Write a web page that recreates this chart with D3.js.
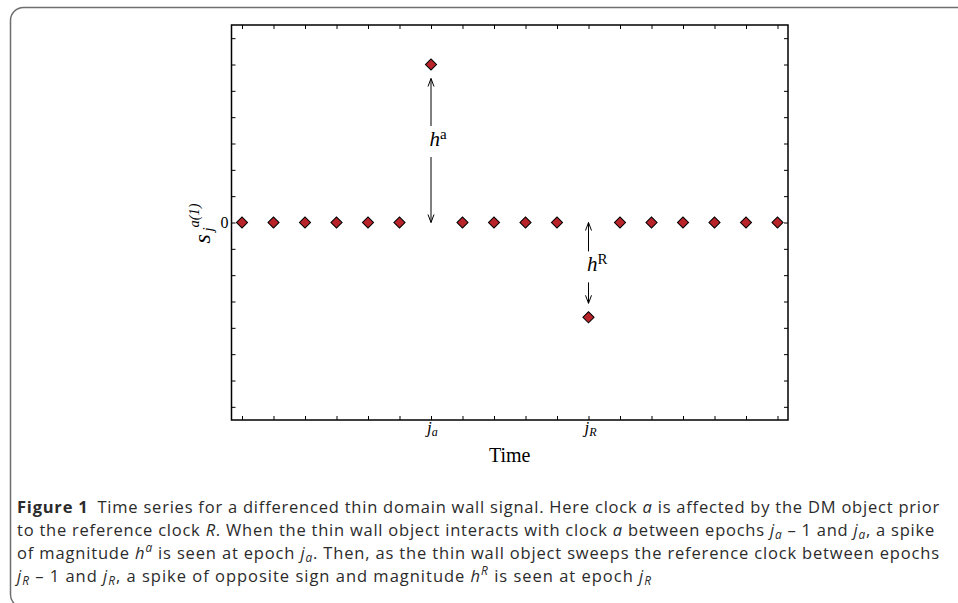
<!DOCTYPE html>
<html>
<head>
<meta charset="utf-8">
<script src="https://cdn.jsdelivr.net/npm/d3@7/dist/d3.min.js"></script>
<style>
  body { margin: 0; background: #fff; }
  svg { display: block; }
</style>
</head>
<body>
<svg id="chart" width="958" height="603"></svg>
<script>
// ---------------- data ----------------
const epochs = [1, 2, 3, 4, 5, 6, 7, 8, 9, 10, 11, 12, 13, 14, 15, 16, 17, 18];
const signal = [0, 0, 0, 0, 0, 0, 6, 0, 0, 0, 0, -3.6, 0, 0, 0, 0, 0, 0];
const yTickValues = [-7, -6, -5, -4, -3, -2, -1, 0, 1, 2, 3, 4, 5, 6, 7];
const yTickLabels = ["0"];
const xLabelEpochs = [7, 12];
const xLabelSubs = ["a", "R"];
const spikeEpochs = [7, 12];
const spikeSups = ["a", "R"];
const xTitle = "Time";
const captionLines = [
  [["Figure 1", "b"], ["\u2002Time series for a differenced thin domain wall signal. Here clock ", ""], ["a", "i"], [" is affected by the DM object prior", ""]],
  [["to the reference clock ", ""], ["R", "i"], [". When the thin wall object interacts with clock ", ""], ["a", "i"], [" between epochs ", ""], ["j", "i"], ["a", "isub"], [" \u2013 1 and ", ""], ["j", "i"], ["a", "isub"], [", a spike", ""]],
  [["of magnitude ", ""], ["h", "i"], ["a", "isup"], [" is seen at epoch ", ""], ["j", "i"], ["a", "isub"], [". Then, as the thin wall object sweeps the reference clock between epochs", ""]],
  [["j", "i"], ["R", "isub"], [" \u2013 1 and ", ""], ["j", "i"], ["R", "isub"], [", a spike of opposite sign and magnitude ", ""], ["h", "i"], ["R", "isup"], [" is seen at epoch ", ""], ["j", "i"], ["R", "isub"]]
];

// ---------------- layout / style ----------------
const plot = { left: 231.5, right: 788, top: 25, bottom: 420 };
const serif = "'Liberation Serif', 'Times New Roman', serif";
const sans = "'Open Sans', 'Noto Sans', sans-serif";
const markerFill = "#b8242a";
const captionColor = "#2b2b2b";
const captionX = 17;
const captionFont = 16.5;
const captionBaselines = [512.5, 535.5, 558.5, 581.5];
const captionRight = [940, 935, 940, 652];
const labelGapCenter = [-9, 4];   // pixel shift of label gap from arrow midpoint
const tipOffset = 14;

const svg = d3.select("#chart");

// outer rounded frame
svg.append("rect")
  .attr("x", 10.5).attr("y", 7.5)
  .attr("width", 1000).attr("height", 600)
  .attr("rx", 13).attr("ry", 13)
  .attr("fill", "none").attr("stroke", "#6e6e6e").attr("stroke-width", 1.5);

// scales
const x = d3.scaleLinear().domain([2 / 3, 18 + 1 / 3]).range([plot.left, plot.right]);
const y = d3.scaleLinear().domain([-7.5, 7.5]).range([plot.bottom, plot.top]);

const g = svg.append("g");

// axes (inward ticks)
const tickStyle = sel => {
  sel.select(".domain").remove();
  sel.selectAll(".tick line").attr("stroke", "#000").attr("stroke-width", 1);
};
g.append("g").attr("transform", `translate(0,${plot.bottom})`)
  .call(d3.axisBottom(x).tickValues(epochs).tickSize(-4).tickFormat("")).call(tickStyle);
g.append("g").attr("transform", `translate(0,${plot.top})`)
  .call(d3.axisTop(x).tickValues(epochs).tickSize(-4).tickFormat("")).call(tickStyle);
g.append("g").attr("transform", `translate(${plot.left},0)`)
  .call(d3.axisLeft(y).tickValues(yTickValues).tickSize(-4).tickPadding(3)
    .tickFormat(d => yTickLabels.includes(String(d)) ? String(d) : ""))
  .call(tickStyle)
  .call(s => s.selectAll(".tick text").attr("font-family", serif).attr("font-size", 16).attr("fill", "#000"));
g.append("g").attr("transform", `translate(${plot.right},0)`)
  .call(d3.axisRight(y).tickValues(yTickValues).tickSize(-4).tickFormat("")).call(tickStyle);

// frame of the plot
g.append("rect")
  .attr("x", plot.left).attr("y", plot.top)
  .attr("width", plot.right - plot.left).attr("height", plot.bottom - plot.top)
  .attr("fill", "none").attr("stroke", "#000").attr("stroke-width", 1.5);

// x tick labels j_a, j_R
xLabelEpochs.forEach((e, i) => {
  const t = g.append("text")
    .attr("x", x(e) - 4).attr("y", 433)
    .attr("font-family", serif).attr("font-size", 17).attr("font-style", "italic")
    .attr("text-anchor", "start");
  t.append("tspan").text("j");
  t.append("tspan").attr("dy", 3).attr("font-size", 12).text(xLabelSubs[i]);
});

// x title
g.append("text")
  .attr("x", (plot.left + plot.right) / 2).attr("y", 462)
  .attr("text-anchor", "middle")
  .attr("font-family", serif).attr("font-size", 20)
  .text(xTitle);

// y title  s_j^{a(1)}
const yl = g.append("g").attr("transform", `translate(210,${y(0)}) rotate(-90)`)
  .attr("font-family", serif).attr("font-style", "italic").attr("fill", "#000");
yl.append("text").attr("x", -21).attr("y", 0).attr("font-size", 24).text("s");
yl.append("text").attr("x", -9).attr("y", 3).attr("font-size", 15).text("j");
yl.append("text").attr("x", -5).attr("y", -11).attr("font-size", 14.5).text("a(1)");

// spike arrows and labels
const arrowHead = (x0, yTip, dir) => {
  g.append("path")
    .attr("d", `M${x0 - 3},${yTip - dir * 8}L${x0},${yTip}L${x0 + 3},${yTip - dir * 8}`)
    .attr("fill", "none").attr("stroke", "#000").attr("stroke-width", 1);
};
spikeEpochs.forEach((e, i) => {
  const v = signal[epochs.indexOf(e)];
  const xp = x(e);
  const sgn = v > 0 ? 1 : -1;
  const yPeak = y(v) + sgn * tipOffset;
  const yZero = y(0);
  const yTop = Math.min(yPeak, yZero), yBot = Math.max(yPeak, yZero);
  const gc = (yTop + yBot) / 2 + labelGapCenter[i];
  const half = 15.5;
  g.append("line").attr("x1", xp).attr("x2", xp).attr("y1", yTop).attr("y2", gc - half)
    .attr("stroke", "#000").attr("stroke-width", 1);
  g.append("line").attr("x1", xp).attr("x2", xp).attr("y1", gc + half).attr("y2", yBot)
    .attr("stroke", "#000").attr("stroke-width", 1);
  arrowHead(xp, yTop, -1);
  arrowHead(xp, yBot, 1);
  const t = g.append("text").attr("x", xp - 1.5).attr("y", gc + 4)
    .attr("font-family", serif).attr("font-size", 21);
  t.append("tspan").attr("font-style", "italic").text("h");
  t.append("tspan").attr("dy", -7).attr("font-size", 15).text(spikeSups[i]);
});

// markers
const diamond = d3.symbol().type(d3.symbolSquare).size(62);
g.append("g").selectAll("path")
  .data(epochs.map((e, i) => ({ e, v: signal[i] })))
  .join("path")
  .attr("d", diamond)
  .attr("transform", d => `translate(${x(d.e)},${y(d.v)}) rotate(45)`)
  .attr("fill", markerFill).attr("stroke", "#000").attr("stroke-width", 1);

// caption
captionLines.forEach((segs, li) => {
  const t = svg.append("text")
    .attr("x", captionX).attr("y", captionBaselines[li])
    .attr("font-family", sans).attr("font-size", captionFont).attr("fill", captionColor);
  let shift = 0;
  segs.forEach(([txt, st]) => {
    const sp = t.append("tspan").text(txt);
    if (st === "b") sp.attr("font-weight", "bold");
    if (st.startsWith("i")) sp.attr("font-style", "italic");
    let target = 0;
    if (st === "isub") { sp.attr("font-size", captionFont * 0.72); target = 3.5; }
    if (st === "isup") { sp.attr("font-size", captionFont * 0.72); target = -6.5; }
    sp.attr("dy", target - shift);
    shift = target;
  });
  const natural = t.node().getComputedTextLength();
  const n = segs.reduce((a, s) => a + s[0].length, 0);
  const target = captionRight[li] - captionX;
  t.attr("letter-spacing", ((target - natural) / n).toFixed(3));
});
</script>
</body>
</html>
